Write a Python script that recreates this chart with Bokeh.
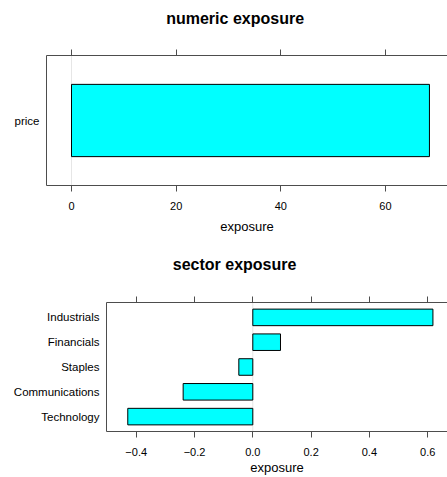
from bokeh.plotting import figure
from bokeh.models import Range1d, FactorRange, LinearAxis, FixedTicker, Span, ColumnDataSource
from bokeh.embed import file_html
from bokeh.resources import INLINE

# ---- data ----
numeric_names = ["price"]
numeric_values = [68.4]
numeric_ticks = [0, 20, 40, 60]
numeric_tick_labels = ["0", "20", "40", "60"]

sector_names = ["Technology", "Communications", "Staples", "Financials", "Industrials"]
sector_values = [-0.429, -0.239, -0.048, 0.095, 0.618]
sector_ticks = [-0.4, -0.2, 0.0, 0.2, 0.4, 0.6]
sector_tick_labels = ["\u22120.4", "\u22120.2", "0.0", "0.2", "0.4", "0.6"]

FONT = "Liberation Sans"
FRAME = "#4d4d4d"


def panel(title, names, values, ticks, tick_labels, x_start, x_end, width, height,
          mb_left, mb_top, mb_bottom, title_offset, title_gap, xlab_standoff):
    n = len(names)
    p = figure(width=width, height=height,
               x_range=Range1d(x_start, x_end),
               y_range=FactorRange(factors=names, range_padding=0.2 / n,
                                   range_padding_units="percent"),
               output_backend="svg", toolbar_location=None,
               min_border_left=mb_left, min_border_right=0,
               min_border_top=mb_top, min_border_bottom=mb_bottom,
               title=title)
    p.outline_line_color = None
    p.background_fill_color = "white"
    p.border_fill_color = "white"
    p.xgrid.visible = False
    p.ygrid.visible = False

    p.title.text_font = FONT
    p.title.text_font_size = "16px"
    p.title.text_font_style = "bold"
    p.title.text_color = "black"
    p.title.align = "left"
    p.title.offset = title_offset
    p.title.standoff = 0

    p.add_layout(Span(location=0, dimension="height", line_color="#e6e6e6",
                      line_width=1, level="underlay"))

    src = ColumnDataSource(dict(name=names, value=values))
    p.hbar(y="name", left=0, right="value", height=0.667, source=src,
           fill_color="#00ffff", line_color="black", line_width=1)

    tick_map = {t: l for t, l in zip(ticks, tick_labels)}

    xa = p.xaxis[0]
    xa.ticker = FixedTicker(ticks=ticks)
    xa.major_label_overrides = tick_map
    xa.major_tick_out = 6
    xa.major_tick_in = 0
    xa.minor_tick_out = 0
    xa.minor_tick_in = 0
    xa.axis_line_color = FRAME
    xa.major_tick_line_color = FRAME
    xa.major_label_text_font = FONT
    xa.major_label_text_font_size = "11px"
    xa.major_label_text_color = "black"
    xa.major_label_standoff = 10
    xa.axis_label = "exposure"
    xa.axis_label_text_font = FONT
    xa.axis_label_text_font_size = "13px"
    xa.axis_label_text_font_style = "normal"
    xa.axis_label_text_color = "black"
    xa.axis_label_standoff = xlab_standoff

    # top frame edge with tick marks (no labels)
    top = LinearAxis(ticker=FixedTicker(ticks=ticks))
    top.major_label_overrides = {t: "" for t in ticks}
    top.major_label_standoff = 0
    top.major_tick_out = 6
    top.major_tick_in = 0
    top.minor_tick_out = 0
    top.minor_tick_in = 0
    top.axis_line_color = FRAME
    top.major_tick_line_color = FRAME
    p.add_layout(top, "above")

    # invisible spacer between the top edge and the title
    spacer = LinearAxis(ticker=FixedTicker(ticks=ticks))
    spacer.major_label_overrides = {t: "" for t in ticks}
    spacer.major_label_standoff = 0
    spacer.major_tick_out = title_gap
    spacer.major_tick_in = 0
    spacer.minor_tick_out = 0
    spacer.minor_tick_in = 0
    spacer.axis_line_color = None
    spacer.major_tick_line_color = None
    p.add_layout(spacer, "above")

    ya = p.yaxis[0]
    ya.major_tick_out = 0
    ya.major_tick_in = 0
    ya.axis_line_color = FRAME
    ya.major_label_text_font = FONT
    ya.major_label_text_font_size = "11.5px"
    ya.major_label_text_color = "black"
    ya.major_label_standoff = 7
    return p


p1 = panel("numeric exposure", numeric_names, numeric_values, numeric_ticks,
           numeric_tick_labels, -4.78, 71.85, 447, 240, 46, 55, 55, 119.7, 23, 6)
p2 = panel("sector exposure", sector_names, sector_values, sector_ticks,
           sector_tick_labels, -0.502, 0.668, 447, 237, 106, 62, 45, 66.3, 24, 1)

open("out.html", "w").write(file_html([p1, p2], INLINE))
